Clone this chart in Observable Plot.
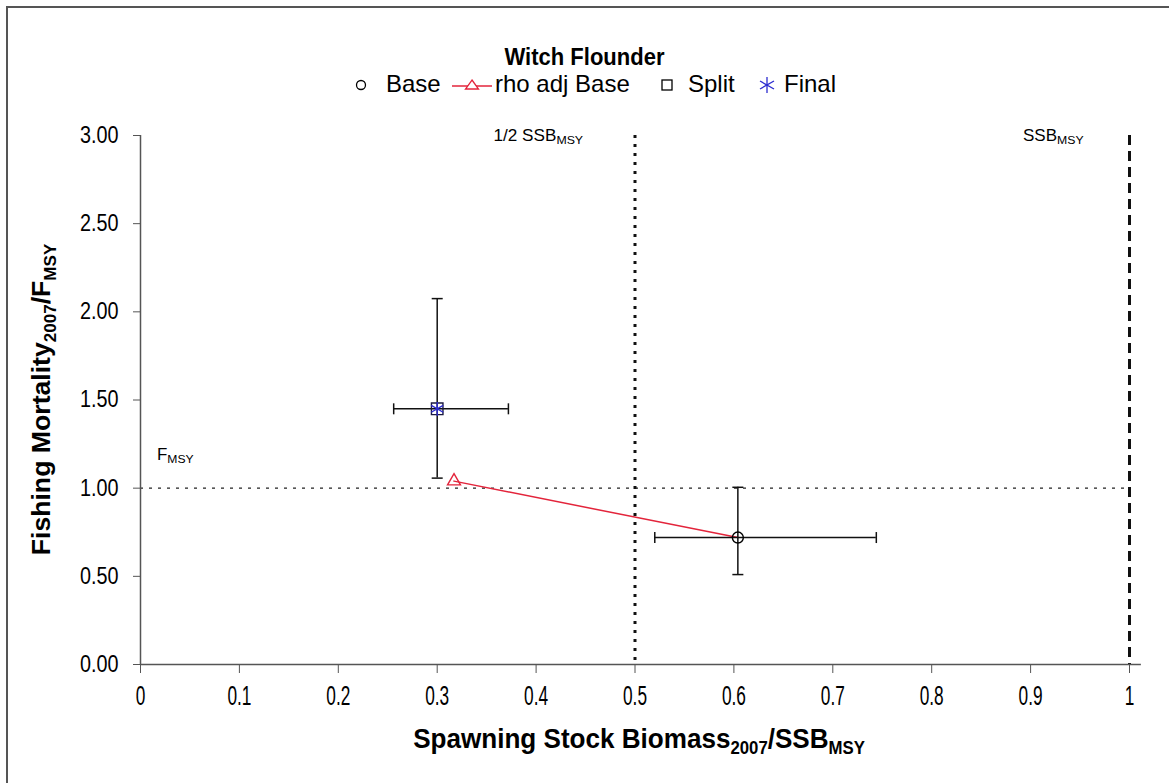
<!DOCTYPE html>
<html><head><meta charset="utf-8">
<script src="https://cdn.jsdelivr.net/npm/d3@7"></script>
<script src="https://cdn.jsdelivr.net/npm/@observablehq/plot@0.6"></script>
<style>
body{margin:0;background:#fff;overflow:hidden;font-family:"Liberation Sans",Arial,sans-serif;}
#wrap{position:relative;width:1169px;height:783px;overflow:hidden;background:#fff;}
#frame{position:absolute;left:6px;top:6px;width:1300px;height:900px;border-left:2px solid #555;border-top:2px solid #555;box-sizing:border-box;}
#title{position:absolute;top:44px;left:0;width:1169px;text-align:center;font-weight:bold;font-size:22px;color:#000;transform:scale(1,1.1);}
#legend{position:absolute;top:0;left:0;width:1169px;height:100px;font-size:24px;color:#000;}
#legend .lab{position:absolute;top:70px;white-space:nowrap;}
#legend svg{position:absolute;}
#chart{position:absolute;left:0;top:100px;}
</style></head>
<body><div id="wrap"><div id="frame"></div><div id="title">Witch Flounder</div><div id="legend"></div><div id="chart"></div></div>
<script>
// ---- data ----
const series = ["Base", "rho adj Base", "Split", "Final"];
const ssb =    [0.604, 0.317, 0.300, 0.300];
const fmort =  [0.720, 1.040, 1.450, 1.450];
// error bars (Base and Split)
const errSeries = ["Base", "Split"];
const errSsb = [0.604, 0.300];
const errF = [0.720, 1.450];
const ssbLow = [0.520, 0.256];
const ssbHigh = [0.744, 0.372];
const fLow = [0.510, 1.057];
const fHigh = [1.005, 2.075];
// rho adjustment path: from rho adj Base to Base
const rhoPathSsb = [0.317, 0.604];
const rhoPathF = [1.040, 0.720];
const xTicks = [0, 0.1, 0.2, 0.3, 0.4, 0.5, 0.6, 0.7, 0.8, 0.9, 1];
const yTicks = [0, 0.5, 1, 1.5, 2, 2.5, 3];
const fmsyRef = 1;
const halfSsbRef = 0.5;
const ssbRef = 1;

const colors = {"Base":"#000","rho adj Base":"#e3243b","Split":"#1a1a40","Final":"#2b2bd0"};
const symbols = {"Base":"circle","rho adj Base":"triangle","Split":"square","Final":"asterisk"};
const sizes = {"Base":5.5,"rho adj Base":4.8,"Split":6.5,"Final":6.5};

const pts = series.map((s,i)=>({s, x:ssb[i], y:fmort[i]}));
const errs = errSeries.map((s,i)=>({s, x:errSsb[i], y:errF[i], xlo:ssbLow[i], xhi:ssbHigh[i], ylo:fLow[i], yhi:fHigh[i]}));
const rhoPath = rhoPathSsb.map((x,i)=>({x, y:rhoPathF[i]}));

const capH = {draw(ctx, size){const h=Math.sqrt(size/Math.PI); ctx.moveTo(-h,0); ctx.lineTo(h,0);}};
const capV = {draw(ctx, size){const h=Math.sqrt(size/Math.PI); ctx.moveTo(0,-h); ctx.lineTo(0,h);}};

const pointMarks = series.map(s => Plot.dot(pts.filter(d=>d.s===s), {x:"x", y:"y", symbol:symbols[s], r:sizes[s], stroke:colors[s], fill:"none", strokeWidth:1.4}));

const chart = Plot.plot({
  width:1169, height:683,
  marginLeft:140, marginRight:40, marginTop:35, marginBottom:119,
  style:{fontFamily:"'Liberation Sans', Arial, sans-serif", color:"#000", background:"transparent", overflow:"visible"},
  x:{domain:[0,1]},
  y:{domain:[0,3]},
  marks:[
    Plot.ruleY([fmsyRef], {stroke:"#222", strokeWidth:1.2, strokeDasharray:"3,6"}),
    Plot.ruleX([halfSsbRef], {stroke:"#111", strokeWidth:3, strokeDasharray:"3,6"}),
    Plot.ruleX([ssbRef], {stroke:"#111", strokeWidth:3, strokeDasharray:"10,6"}),
    Plot.ruleY([0], {x1:0, x2:1.012, stroke:"#555", strokeWidth:1.5}),
    Plot.ruleX([0], {y1:0, y2:3, stroke:"#555", strokeWidth:1.5}),
    Plot.axisX({ticks:xTicks, tickSize:9, tickPadding:12, fontSize:27, tickFormat:d=>String(d), label:null, stroke:"#555", fill:"#000"}),
    Plot.axisY({ticks:yTicks, tickSize:7, tickPadding:15, fontSize:23, tickFormat:d=>d.toFixed(2), label:null, stroke:"#555", fill:"#000"}),
    Plot.line(rhoPath, {x:"x", y:"y", stroke:colors["rho adj Base"], strokeWidth:1.5}),
    Plot.ruleX(errs, {x:"x", y1:"ylo", y2:"yhi", stroke:"#111", strokeWidth:1.5}),
    Plot.ruleY(errs, {y:"y", x1:"xlo", x2:"xhi", stroke:"#111", strokeWidth:1.5}),
    Plot.dot(errs, {x:"x", y:"ylo", symbol:capH, r:5.5, stroke:"#111", strokeWidth:1.5}),
    Plot.dot(errs, {x:"x", y:"yhi", symbol:capH, r:5.5, stroke:"#111", strokeWidth:1.5}),
    Plot.dot(errs, {x:"xlo", y:"y", symbol:capV, r:5.5, stroke:"#111", strokeWidth:1.5}),
    Plot.dot(errs, {x:"xhi", y:"y", symbol:capV, r:5.5, stroke:"#111", strokeWidth:1.5}),
    ...pointMarks
  ]
});
document.getElementById("chart").appendChild(chart);

const svg = d3.select(chart);
const X = v => chart.scale("x").apply(v);
const Y = v => chart.scale("y").apply(v);

// condense tick labels horizontally (reference glyphs are tall and narrow)
function condense(sel, factor){
  sel.each(function(){
    const w = this.getComputedTextLength();
    this.setAttribute("textLength", (w*factor).toFixed(1));
    this.setAttribute("lengthAdjust", "spacingAndGlyphs");
  });
}
condense(svg.selectAll("g[aria-label='x-axis tick label'] text"), 0.64);
condense(svg.selectAll("g[aria-label='y-axis tick label'] text"), 0.86);

function subText(g, x, y, parts, opts){
  const outer = g.append("g");
  const t = outer.append("text").attr("x", 0).attr("y", 0)
    .attr("font-size", opts.size).attr("font-weight", opts.weight||"normal")
    .attr("font-family", "'Liberation Sans', Arial, sans-serif")
    .attr("text-anchor", opts.anchor||"middle").attr("fill", "#000");
  parts.forEach(p=>{
    const ts = t.append("tspan").text(p.t);
    if(p.sub){ ts.attr("font-size", opts.subSize).attr("dy", opts.subDy); }
    else if(p.after){ ts.attr("dy", -opts.subDy); }
  });
  let sx = opts.sx || 1;
  if(opts.fit){ sx = opts.fit / t.node().getBBox().width; }
  outer.attr("transform", `translate(${x},${y})${opts.rotate?` rotate(${opts.rotate})`:""} scale(${sx},1)`);
  return t;
}
const ann = svg.append("g");
// reference line annotations
subText(ann, X(halfSsbRef)-141, Y(3)+6, [{t:"1/2 SSB"},{t:"MSY",sub:true}], {size:16, subSize:11.5, subDy:3, anchor:"start", fit:90});
subText(ann, X(ssbRef)-106, Y(3)+6, [{t:"SSB"},{t:"MSY",sub:true}], {size:16, subSize:11.5, subDy:3, anchor:"start", fit:61});
subText(ann, X(0)+17, Y(fmsyRef)-28, [{t:"F"},{t:"MSY",sub:true}], {size:16, subSize:11.5, subDy:3, anchor:"start", fit:37});
// axis titles
subText(ann, 639, 648, [{t:"Spawning Stock Biomass"},{t:"2007",sub:true},{t:"/SSB",after:true},{t:"MSY",sub:true}],
  {size:28, subSize:18, subDy:6, weight:"bold", fit:452});
subText(ann, 50, (Y(0)+Y(3))/2, [{t:"Fishing Mortality"},{t:"2007",sub:true},{t:"/F",after:true},{t:"MSY",sub:true}],
  {size:25, subSize:16, subDy:6, weight:"bold", rotate:-90, fit:312});

// legend (positions of the reference legend row)
const leg = document.getElementById("legend");
const red = colors["rho adj Base"], blue = colors["Final"];
const legendItems = [
  {s:"Base", sym:`<svg width="16" height="16" style="left:353px;top:77px"><circle cx="8" cy="8" r="4.5" fill="none" stroke="#000" stroke-width="1.3"/></svg>`, labX:386},
  {s:"rho adj Base", sym:`<svg width="40" height="18" style="left:452px;top:76px"><line x1="0" y1="10" x2="40" y2="10" stroke="${red}" stroke-width="1.5"/><path d="M20,4 L26.5,13 L13.5,13 Z" fill="#fff" stroke="${red}" stroke-width="1.3"/></svg>`, labX:495},
  {s:"Split", sym:`<svg width="16" height="16" style="left:659px;top:77px"><rect x="3" y="3" width="10" height="10" fill="none" stroke="#000" stroke-width="1.3"/></svg>`, labX:688},
  {s:"Final", sym:`<svg width="20" height="20" style="left:757px;top:75px"><g stroke="${blue}" stroke-width="1.3"><line x1="10" y1="2" x2="10" y2="18"/><line x1="3" y1="6" x2="17" y2="14"/><line x1="3" y1="14" x2="17" y2="6"/></g></svg>`, labX:784}
];
legendItems.forEach(it=>{
  leg.insertAdjacentHTML("beforeend", it.sym + `<span class="lab" style="left:${it.labX}px">${it.s}</span>`);
});
</script></body></html>
